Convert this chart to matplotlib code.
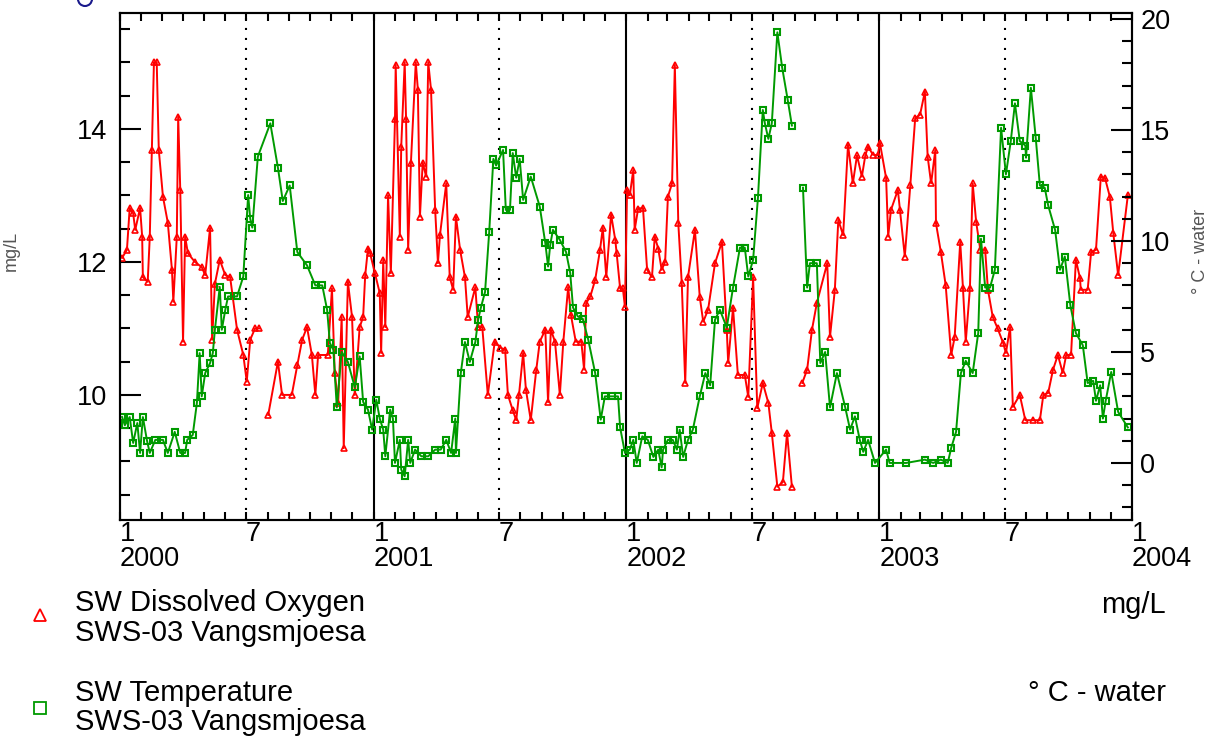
import numpy as np
import pandas as pd
import matplotlib
matplotlib.use("Agg")
import matplotlib.pyplot as plt
from matplotlib.lines import Line2D
from matplotlib.patches import Ellipse
from matplotlib.ticker import FixedLocator, MultipleLocator

plt.rcParams['font.family'] = ['Liberation Sans', 'DejaVu Sans']

nan = np.nan
start = pd.Timestamp("2000-01-01")

# Dissolved oxygen (mg/L), sampling day counted from 2000-01-01, NaN = gap in record
do_2000_days = [3, 10, 14, 19, 22, 29, 32, 33, 40, 43, 46, 49, 53, 56, 62, 69, 75, 77, 82, 84,
                87, 91, 94, 98, 108, 118, 123, 130, 133, 137, 144, 152, 159, 169, 178, 183, 188, 195, 201, 207,
                214, 228, 234, 248, 256, 263, 270, 277, 282, 286, 300, 306, 310, 315, 320, 323, 329, 335, 339, 346,
                351, 354, 358]
do_2000_vals = [12.06, 12.18, 12.81, 12.73, 12.48, 12.81, 12.38, 11.77, 11.70, 12.38, 13.68, 15.0, 15.0, 13.68, 12.98, 12.59, 11.88, 11.40, 12.38, 14.18,
                13.08, 10.80, 12.38, 12.13, 12.0, 11.92, 11.8, 12.51, 10.83, 11.67, 12.03, 11.8, 11.77, 10.98, 10.6, 10.2, 10.83, 11.0, 11.0, nan,
                9.70, 10.5, 10.0, 10.0, 10.45, 10.83, 11.02, 10.6, 10.0, 10.6, 10.6, 11.6, 10.33, 9.88, 11.17, 9.2, 11.7, 11.17, 10.0, 11.02,
                11.17, 11.8, 12.2]

do_2001_days = [361, 368, 375, 377, 380, 383, 387, 391, 397, 398, 404, 406, 411, 413, 416, 420, 427, 430, 433, 437,
                442, 445, 449, 455, 459, 462, 471, 476, 481, 485, 491, 498, 502, 513, 517, 523, 531, 541, 549, 556,
                560, 567, 572, 576, 582, 586, 593, 601, 606, 614, 618, 622, 628, 635, 640, 647, 651, 658, 666, 670,
                673, 679, 686, 693, 697, 702, 709, 715, 717, 722, 726, 729]
do_2001_vals = [12.13, 11.83, 11.53, 10.63, 12.03, 11.02, 13.0, 11.83, 14.14, 14.96, 12.38, 13.73, 15.0, 14.14, 12.18, 13.49, 15.0, 14.59, 12.68, 13.49,
                13.28, 15.0, 14.59, 12.78, 11.98, 12.41, 13.18, 11.77, 11.58, 12.68, 12.18, 11.77, 11.17, 11.62, 11.02, 11.02, 10.0, 10.8, 10.71, 10.68,
                10.0, 9.77, 9.62, 10.0, 10.63, 10.08, 9.62, 10.38, 10.8, 10.98, 9.89, 10.98, 10.8, 10.0, 10.8, 11.62, 11.2, 10.8, 10.8, 10.38,
                11.38, 11.48, 11.73, 12.18, 12.51, 11.77, 12.71, 12.33, 12.13, 11.6, 11.6, 11.32]

do_2002_days = [732, 736, 741, 743, 748, 755, 761, 768, 772, 777, 782, 787, 791, 797, 801, 806, 811, 816, 820, 830,
                837, 842, 849, 859, 869, 876, 878, 885, 892, 902, 907, 914, 920, 928, 936, 941, 949, 957, 963, 970,
                978, 985, 992, 999, 1006, 1021, 1025, 1032, 1037, 1044, 1051, 1058, 1064, 1071, 1076, 1080, 1087, 1094]
do_2002_vals = [13.08, 13.0, 13.38, 12.48, 12.8, 12.81, 11.88, 11.77, 12.38, 12.2, 11.88, 12.0, 12.98, 13.18, 14.96, 12.58, 11.68, 10.18, 11.77, 12.48,
                11.47, 11.1, 11.28, 11.98, 12.3, 10.98, 10.48, 11.31, 10.3, 10.3, 9.97, 11.77, 9.8, 10.18, 9.88, 9.43, 8.62, 8.69, 9.43, 8.62,
                nan, 10.18, 10.38, 10.98, 11.38, 11.98, 10.87, 11.58, 12.63, 12.4, 13.76, 13.18, 13.6, 13.28, 13.6, 13.73, 13.61, 13.6]

do_2003_days = [1097, 1106, 1109, 1113, 1123, 1126, 1133, 1141, 1148, 1155, 1162, 1166, 1171, 1177, 1178, 1185, 1192, 1200, 1205, 1213,
                1217, 1221, 1227, 1231, 1236, 1242, 1249, 1253, 1260, 1267, 1275, 1279, 1285, 1289, 1299, 1307, 1318, 1328, 1333, 1340,
                1347, 1354, 1361, 1366, 1373, 1380, 1386, 1387, 1397, 1402, 1409, 1416, 1422, 1429, 1434, 1441, 1455]
do_2003_vals = [13.79, 13.26, 12.38, 12.78, 13.08, 12.78, 12.08, 13.16, 14.16, 14.21, 14.56, 13.58, 13.18, 13.68, 12.58, 12.15, 11.65, 10.6, 10.87, 12.3,
                11.6, 10.8, 11.6, 13.18, 12.6, 12.18, 12.18, 11.58, 11.17, 11.0, 10.78, 10.63, 11.02, 9.82, 10.0, 9.62, 9.62, 9.62, 10.0, 10.03,
                10.38, 10.6, 10.33, 10.6, 10.6, 12.03, 11.75, 11.58, 11.58, 12.15, 12.18, 13.28, 13.26, 12.98, 12.43, 11.8, 13.0]

# Water temperature (deg C)
wt_2000_days = [3, 7, 14, 19, 25, 29, 33, 39, 43, 51, 62, 69, 79, 87, 94, 97, 105, 111, 115, 118,
                123, 130, 134, 137, 144, 147, 152, 156, 169, 178, 185, 188, 191, 199, 217, 228, 235, 245, 256, 270,
                282, 292, 299, 303, 308, 313, 320, 329, 339, 346, 351, 358, 364]
wt_2000_vals = [2.07, 1.7, 2.07, 0.9, 1.8, 0.45, 2.07, 1.0, 0.45, 1.04, 1.04, 0.45, 1.4, 0.45, 0.45, 1.04, 1.26, 2.7, 4.95, 3.0,
                4.05, 4.5, 4.95, 6.0, 7.93, 6.0, 6.9, 7.5, 7.5, 8.4, 12.07, 11.0, 10.6, 13.8, 15.3, 13.3, 11.8, 12.5, 9.5, 8.9,
                8.0, 8.0, 6.9, 5.4, 5.1, 2.5, 5.0, 4.55, 3.4, 4.8, 2.75, 2.4, 1.5]

wt_2001_days = [370, 375, 380, 383, 390, 394, 397, 404, 406, 411, 416, 419, 426, 435, 445, 455, 463, 471, 478, 484,
                485, 492, 498, 505, 513, 517, 521, 527, 533, 539, 543, 553, 557, 563, 567, 572, 577, 582, 593, 606,
                614, 618, 621, 625, 635, 644, 650, 654, 661, 668, 676, 686, 694, 700, 710, 719, 722, 729]
wt_2001_vals = [2.85, 2.0, 1.5, 0.3, 2.4, 2.0, 0.0, 1.04, -0.3, -0.6, 1.04, 0.0, 0.6, 0.3, 0.3, 0.6, 0.6, 1.04, 0.45, 2.0,
                0.45, 4.05, 5.45, 4.55, 5.45, 6.45, 7.0, 7.7, 10.4, 13.7, 13.4, 14.1, 11.4, 11.4, 13.96, 12.85, 13.7, 11.85, 12.9, 11.55,
                9.9, 8.85, 9.8, 10.5, 10.05, 9.5, 8.55, 7.0, 6.6, 6.5, 5.55, 4.05, 1.95, 3.0, 3.0, 3.0, 1.6, 0.45]

wt_2002_days = [736, 741, 746, 754, 762, 770, 777, 782, 784, 791, 798, 804, 808, 813, 820, 827, 837, 845, 852, 859,
                866, 876, 885, 895, 902, 907, 914, 921, 928, 931, 936, 941, 949, 956, 964, 970, 978, 986, 992, 996,
                1006, 1011, 1018, 1025, 1035, 1047, 1054, 1061, 1068, 1073, 1080, 1090]
wt_2002_vals = [0.6, 1.04, 0.0, 1.2, 1.04, 0.27, 0.6, -0.2, 0.6, 1.04, 1.04, 0.6, 1.5, 0.27, 1.04, 1.5, 3.0, 4.05, 3.5, 6.45,
                6.9, 6.1, 7.9, 9.7, 9.7, 8.4, 9.15, 11.95, 15.9, 15.3, 14.6, 15.3, 19.4, 17.8, 16.35, 15.2, nan, 12.4, 7.9, 9.0,
                9.0, 4.5, 5.0, 2.5, 4.05, 2.5, 1.5, 2.1, 1.04, 0.5, 1.04, 0.0]

wt_2003_days = [1106, 1111, 1135, 1162, 1174, 1185, 1195, 1200, 1207, 1214, 1221, 1231, 1239, 1243, 1249, 1256, 1263, 1272, 1279, 1286,
                1292, 1299, 1307, 1308, 1315, 1322, 1328, 1335, 1340, 1350, 1357, 1364, 1372, 1380, 1390, 1397, 1405, 1409, 1415, 1419,
                1423, 1431, 1441, 1455]
wt_2003_vals = [0.6, 0.0, 0.0, 0.15, 0.0, 0.15, 0.0, 0.68, 1.4, 4.05, 4.6, 4.05, 5.85, 10.1, 7.9, 7.9, 8.7, 15.1, 13.0, 14.5,
                16.2, 14.5, 14.3, 13.75, 16.9, 14.65, 12.5, 12.4, 11.6, 10.5, 8.7, 9.3, 7.1, 5.85, 5.3, 3.6, 3.7, 2.8, 3.5, 2.0,
                2.8, 4.1, 2.3, 1.6]

years = [2000, 2001, 2002, 2003, 2004]

do_days = do_2000_days + do_2001_days + do_2002_days + do_2003_days
do_vals = do_2000_vals + do_2001_vals + do_2002_vals + do_2003_vals
wt_days = wt_2000_days + wt_2001_days + wt_2002_days + wt_2003_days
wt_vals = wt_2000_vals + wt_2001_vals + wt_2002_vals + wt_2003_vals
assert len(do_days) == len(do_vals) and len(wt_days) == len(wt_vals)

do_dates = start + pd.to_timedelta(do_days, unit="D")
wt_dates = start + pd.to_timedelta(wt_days, unit="D")

RED = "#ff0000"
GREEN = "#009a00"
W, H = 1210, 739

fig = plt.figure(figsize=(W / 100, H / 100), dpi=100)
ax = fig.add_axes([120 / W, 1 - 520 / H, (1132 - 120) / W, (520 - 13) / H])
ax2 = ax.twinx()

ax.plot(do_dates, do_vals, color=RED, lw=1.4, marker="^", ms=4.5, mfc="none", mew=1.2)
ax2.plot(wt_dates, wt_vals, color=GREEN, lw=1.4, marker="s", ms=4.5, mfc="none", mew=1.5)

ax.set_xlim(pd.Timestamp("2000-01-01"), pd.Timestamp("2004-01-01"))
ax.set_ylim(8.12, 15.74)
ax2.set_ylim(-2.57, 20.27)

# year (solid) and mid-year (dotted) separators
for y in years[1:-1]:
    ax.axvline(pd.Timestamp(f"{y}-01-01"), color="black", lw=1.5, zorder=1)
for y in years[:-1]:
    ax.axvline(pd.Timestamp(f"{y}-07-01"), color="black", lw=1.5, ls=(0, (1, 3.8)), zorder=1)

# month ticks, labelled at Jan and Jul
months = pd.date_range("2000-01-01", "2004-01-01", freq="MS")
labels = []
for m in months:
    if m.month == 1:
        labels.append(f"1\n{m.year}")
    elif m.month == 7:
        labels.append("7")
    else:
        labels.append("")
ax.set_xticks(months)
ax.set_xticklabels(labels, fontsize=19.5, ha="left", linespacing=0.92)
for t in ax.get_xticklabels():
    t.set_multialignment("left")
ax.tick_params(axis="x", direction="in", length=6, width=1.5, top=True, pad=1)

ax.yaxis.set_major_locator(FixedLocator([10, 12, 14]))
ax.yaxis.set_minor_locator(MultipleLocator(0.5))
ax.tick_params(axis="y", which="major", direction="in", length=15, width=1.5, labelsize=19.5, pad=9, right=False)
ax.tick_params(axis="y", which="minor", direction="in", length=7.5, width=1.5, right=False)

ax2.yaxis.set_major_locator(FixedLocator([0, 5, 10, 15, 20]))
ax2.yaxis.set_minor_locator(MultipleLocator(1))
ax2.tick_params(axis="y", which="major", direction="in", length=15, width=1.5, labelsize=19.5, pad=6)
ax2.tick_params(axis="y", which="minor", direction="in", length=7.5, width=1.5)

for a in (ax, ax2):
    for s in a.spines.values():
        s.set_linewidth(1.5)

ax.set_ylabel("mg/L", fontsize=13, color="#555555", labelpad=0)
ax.yaxis.set_label_coords(-100 / 1012, 0.53)
ax2.set_ylabel("° C - water", fontsize=13, color="#555555", rotation=90)
ax2.yaxis.set_label_coords(1 + 60 / 1012, 0.53)

# legend block under the plot
fig.add_artist(Line2D([40 / W], [1 - 615 / H], marker="^", ms=8, mfc="none", mec=RED, mew=1.3,
                      transform=fig.transFigure, ls="none"))
fig.add_artist(Line2D([40 / W], [1 - 708 / H], marker="s", ms=8, mfc="none", mec=GREEN, mew=1.3,
                      transform=fig.transFigure, ls="none"))
fig.text(75 / W, 1 - 603 / H, "SW Dissolved Oxygen", fontsize=21, va="center", ha="left")
fig.text(75 / W, 1 - 633 / H, "SWS-03 Vangsmjoesa", fontsize=21, va="center", ha="left")
fig.text(75 / W, 1 - 693 / H, "SW Temperature", fontsize=21, va="center", ha="left")
fig.text(75 / W, 1 - 722 / H, "SWS-03 Vangsmjoesa", fontsize=21, va="center", ha="left")
fig.text(1166 / W, 1 - 605 / H, "mg/L", fontsize=21, va="center", ha="right")
fig.text(1166 / W, 1 - 693 / H, "° C - water", fontsize=21, va="center", ha="right")

# bit of the logo peeking in at the top edge
fig.add_artist(Ellipse((85 / W, 1 + 1 / H), 14 / W, 14 / H, fill=False, ec="#1a1a8c", lw=1.5,
                       transform=fig.transFigure))

fig.savefig("out.png", dpi=100, facecolor="white")
